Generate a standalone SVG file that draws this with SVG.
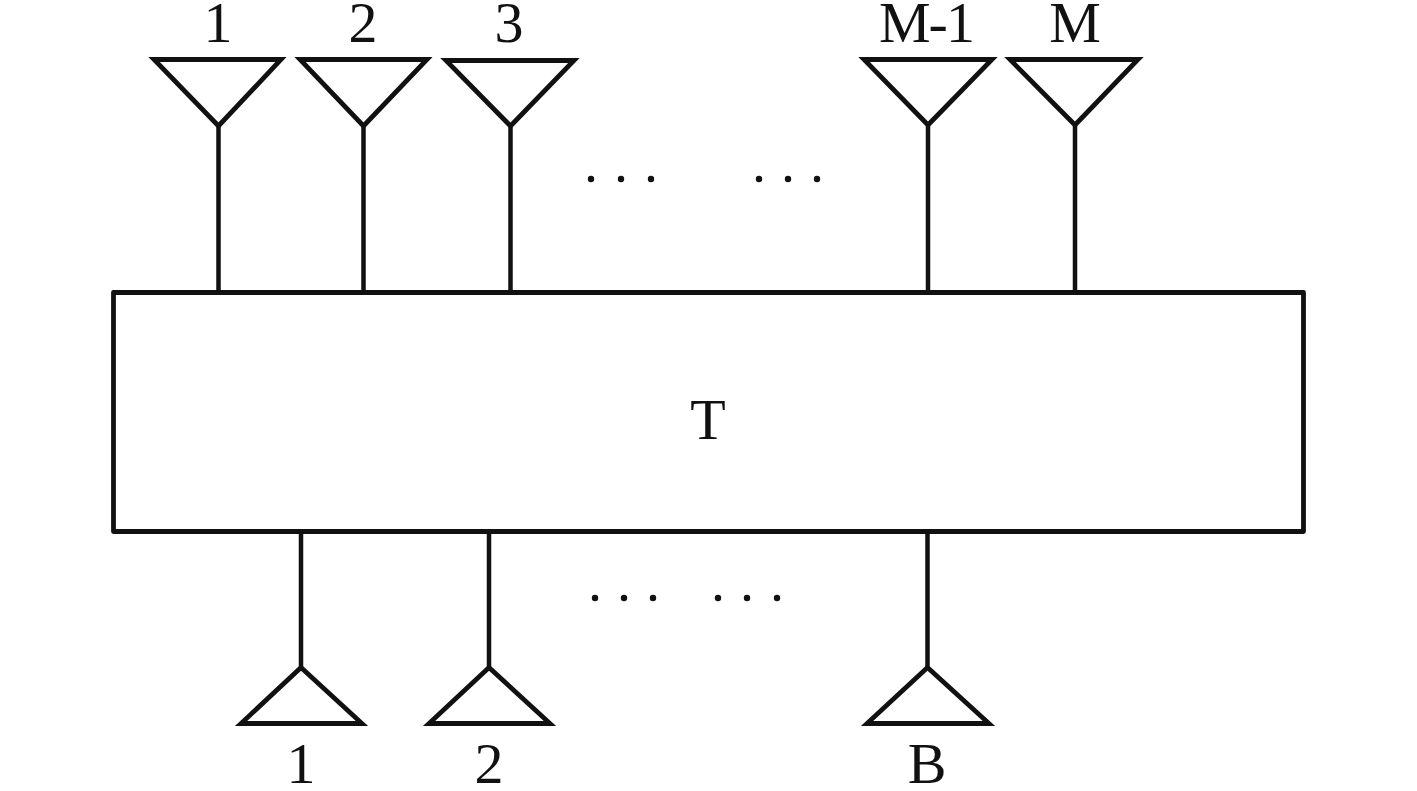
<svg xmlns="http://www.w3.org/2000/svg" width="1417" height="791" viewBox="0 0 1417 791">
<style>
.s{fill:none;stroke:#111;stroke-width:4.800;stroke-linejoin:miter}
.b{fill:none;stroke:#111;stroke-width:4.800;stroke-linejoin:round}
.c{fill:none;stroke:#111;stroke-width:4.500}
.d{fill:#111}
text{font-family:"Liberation Serif","Times New Roman",serif;font-size:58px;fill:#111;text-anchor:middle}
</style>
<rect width="1417" height="791" fill="#fff"/>
<g id="connectors">
<path class="c" d="M218.500 126V292M363.500 126V292M510.500 126V292M928 126V292M1075 126V292M301 532V667M489 532V667M927.500 532V667"/>
</g>
<g id="box"><rect class="b" x="113.500" y="292.500" width="1190" height="239"/><text x="708" y="439">T</text></g>
<g id="top1"><path class="s" d="M154 59.500H281L218.500 126Z"/><text x="218" y="42">1</text></g>
<g id="top2"><path class="s" d="M300 59.500H427L363.500 126Z"/><text x="363" y="42">2</text></g>
<g id="top3"><path class="s" d="M446 60.500H574L510.500 126Z"/><text x="509" y="42">3</text></g>
<g id="topM1"><path class="s" d="M864 59.500H992L928 125Z"/><text x="926" y="42" letter-spacing="-2">M-1</text></g>
<g id="topM"><path class="s" d="M1010 59.500H1138L1075 125Z"/><text x="1075" y="42">M</text></g>
<g id="bot1"><path class="s" d="M241 723.500H362L301 667.500Z"/><text x="301" y="783">1</text></g>
<g id="bot2"><path class="s" d="M429 723.500H550L489 667.500Z"/><text x="489" y="783">2</text></g>
<g id="botB"><path class="s" d="M867 723.500H989L927.500 667.500Z"/><text x="927" y="783">B</text></g>
<g id="dots">
<circle class="d" cx="591" cy="179" r="3.200"/><circle class="d" cx="621" cy="179" r="3.200"/><circle class="d" cx="651" cy="179" r="3.200"/>
<circle class="d" cx="759" cy="179" r="3.200"/><circle class="d" cx="788" cy="179" r="3.200"/><circle class="d" cx="817" cy="179" r="3.200"/>
<circle class="d" cx="595" cy="598" r="3.200"/><circle class="d" cx="624" cy="598" r="3.200"/><circle class="d" cx="653" cy="598" r="3.200"/>
<circle class="d" cx="718" cy="598" r="3.200"/><circle class="d" cx="747" cy="598" r="3.200"/><circle class="d" cx="777" cy="598" r="3.200"/>
</g>
</svg>
